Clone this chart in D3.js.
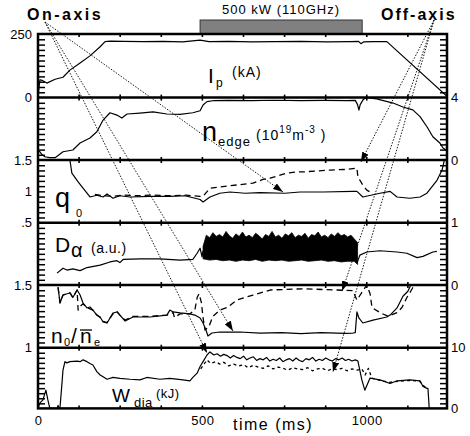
<!DOCTYPE html>
<html><head><meta charset="utf-8">
<script src="https://cdn.jsdelivr.net/npm/d3@7"></script>
<style>
body{margin:0;background:#fff}
svg{display:block}
text{font-family:"Liberation Sans",Arial,Helvetica,sans-serif;fill:#000}
</style>
</head><body>
<svg id="c" width="470" height="436"></svg>
<script>
// ---------------- DATA (time in ms) ----------------
const ipT=[0,3,6,12,27,52,76,97,128,158,189,204,219,260,320,380,440,493,520,580,650,720,800,880,950,975,982,990,1020,1061,1244];
const ipV=[0,40,70,68,57,72,80,108,136,164,200,220,222,221,220,221,219,226,220,221,219,220,221,219,220,221,212,219,220,220,5];

const neT=[3,12,21,35,52,76,106,128,158,179,198,219,240,255,271,310,350,392,432,471,493,502,514,532,580,650,720,800,870,940,965,972,976,980,990,1000,1030,1080,1110,1140,1162,1183,1201,1223,1232,1244];
const neV=[0.6,0.35,0.21,0.15,0.15,0.53,0.64,1.09,1.41,1.81,2.56,3.03,2.88,2.69,2.95,3.01,3.09,2.95,2.93,3.03,3.16,3.53,3.74,3.80,3.82,3.80,3.83,3.81,3.82,3.80,3.82,3.55,3.2,3.55,3.9,4.0,3.92,3.65,3.4,3.21,2.78,2.13,1.49,1.07,0.77,0.6];

const q0T=[97,103,122,134,149,158,173,179,198,210,228,249,280,341,401,447,493,502,523,553,584,630,675,751,797,867,958,970,988,1040,1071,1092,1131,1162,1183,1192,1214,1229,1236];
const q0V=[1.5,1.29,1.15,1.07,0.97,0.91,0.93,0.94,0.91,0.96,0.89,0.93,0.91,0.92,0.92,0.93,0.87,0.83,0.91,0.97,0.99,0.97,0.98,0.97,0.99,0.99,1.0,1.0,0.91,0.97,1.0,0.91,0.89,0.91,0.97,1.03,1.18,1.34,1.5];
const q0dT=[173,200,230,260,300,350,400,450,493,502,523,553,584,654,684,706,757,788,806,888,940,970,973,988,1000,1010];
const q0dV=[0.95,0.93,0.92,0.94,0.93,0.94,0.93,0.94,0.92,0.92,1.05,1.07,1.09,1.13,1.19,1.21,1.29,1.31,1.31,1.34,1.35,1.37,1.23,1.10,1.02,0.99];

const daPreT=[58,76,88,106,128,149,189,219,240,249,259,310,371,432,471,484,493,499,502];
const daPreV=[0.19,0.27,0.24,0.26,0.23,0.28,0.32,0.37,0.39,0.36,0.41,0.42,0.42,0.40,0.41,0.51,0.59,0.45,0.55];
const daTopT=[502,512,522,532,542,552,562,572,582,592,602,612,622,632,642,652,662,672,682,692,702,712,722,732,742,752,762,772,782,792,802,812,822,832,842,852,862,872,882,892,902,912,922,932,942,952,962,972];
const daTopV=[0.62,0.80,0.76,0.84,0.78,0.81,0.77,0.86,0.79,0.75,0.82,0.78,0.85,0.77,0.80,0.76,0.83,0.79,0.74,0.81,0.78,0.86,0.77,0.80,0.75,0.82,0.79,0.84,0.76,0.80,0.78,0.83,0.75,0.81,0.79,0.85,0.77,0.80,0.76,0.82,0.78,0.84,0.79,0.81,0.77,0.80,0.74,0.68];
const daBotT=[502,522,542,562,582,602,622,642,662,682,702,722,742,762,782,802,822,842,862,882,902,922,942,962,972];
const daBotV=[0.42,0.40,0.41,0.39,0.40,0.38,0.40,0.39,0.41,0.38,0.40,0.39,0.40,0.38,0.39,0.40,0.38,0.39,0.40,0.38,0.39,0.37,0.38,0.38,0.33];
const daPostT=[970,979,1000,1040,1092,1122,1153,1171,1201,1213];
const daPostV=[0.35,0.48,0.53,0.55,0.53,0.51,0.44,0.46,0.53,0.54];

const n0T=[61,67,76,97,106,119,128,137,149,158,167,179,189,198,210,228,240,249,265,289,341,392,401,411,432,462,477,493,502,511,517,529,553,614,675,740,800,860,934,958,965,970,976,988,1019,1061,1071,1092,1110,1125,1134];
const n0V=[1.484,1.356,1.42,1.436,1.40,1.46,1.42,1.356,1.317,1.325,1.30,1.26,1.245,1.205,1.197,1.277,1.285,1.26,1.213,1.245,1.245,1.26,1.30,1.285,1.277,1.27,1.26,1.237,1.197,1.14,1.093,1.117,1.125,1.125,1.117,1.12,1.113,1.12,1.115,1.117,1.12,1.285,1.237,1.197,1.22,1.245,1.26,1.317,1.41,1.45,1.5];
const n0dT=[61,67,76,97,106,119,122,128,137,149,167,179,189,198,210,228,240,249,265,289,341,392,411,415,432,462,477,484,490,497,502,508,520,532,553,575,605,654,706,806,909,958,970,990,1000,1010,1016,1040,1065,1092,1107,1122,1138,1144];
const n0dV=[1.48,1.36,1.42,1.44,1.40,1.46,1.30,1.33,1.35,1.32,1.30,1.26,1.24,1.21,1.20,1.27,1.29,1.26,1.22,1.25,1.25,1.26,1.28,1.24,1.27,1.27,1.30,1.40,1.43,1.36,1.24,1.14,1.17,1.25,1.30,1.32,1.38,1.42,1.46,1.47,1.46,1.455,1.38,1.46,1.5,1.43,1.32,1.28,1.25,1.28,1.32,1.40,1.47,1.5];

const wT=[0,6,15,24,30,36,58,61,64,67,73,76,82,88,97,119,128,137,149,158,167,179,189,198,210,228,249,280,310,331,371,401,441,462,471,484,493,502,514,523,535,545,555,565,575,585,595,605,615,625,635,645,655,665,675,685,695,705,715,725,735,745,755,765,775,785,795,805,815,825,835,845,855,865,875,885,895,905,915,925,935,945,955,965,973,985,994,1010,1040,1071,1092,1131,1162,1171,1183,1186,1190];
const wV=[0,0.9,1.4,3.0,1.4,0,0,0.5,0,0.2,4.2,6.3,7.7,7.5,7.7,7.8,7.7,8.0,7.7,7.4,7.15,6.05,5.5,5.2,4.8,5.1,4.95,4.8,4.7,5.1,4.8,4.95,4.7,4.55,5.1,5.8,6.9,7.7,8.8,9.3,8.8,9.0,8.6,8.9,8.7,8.3,8.7,8.4,8.2,8.6,8.0,8.3,8.5,7.9,8.2,8.0,8.4,7.8,8.1,7.9,8.3,7.7,8.0,8.2,7.8,8.3,7.9,7.7,8.2,8.0,8.4,7.8,8.1,7.9,8.3,8.0,7.8,8.2,8.0,8.3,7.9,8.1,7.8,8.0,7.8,4.7,3.0,5.0,4.7,4.1,4.55,4.7,4.55,3.6,3.3,3.3,0];
const wdT=[495,514,525,540,553,565,580,595,610,625,640,655,670,685,700,715,730,745,760,775,790,805,820,835,850,865,880,895,910,925,940,955,970,985,995,1005,1015,1040,1070,1100,1130,1160,1175,1186];
const wdV=[6.5,8.0,7.4,7.7,7.3,7.6,7.0,7.3,7.0,7.2,6.7,7.1,6.8,6.6,7.0,6.5,6.8,6.6,6.3,6.7,6.5,6.4,6.7,6.2,6.5,6.6,6.2,6.5,6.4,6.6,6.2,6.5,6.3,6.5,5.5,6.6,5.0,4.6,4.3,4.5,4.6,4.5,3.6,3.3];

// tick labels
const xTickLabels=[0,500,1000];
const xMinorTicks=[125,250,375,500,625,750,875,1000,1125];

// ---------------- LAYOUT ----------------
const svg=d3.select('#c');
svg.append('rect').attr('width',470).attr('height',436).attr('fill','#fff');
const X0=38,X1=447;
const x=d3.scaleLinear().domain([0,1244]).range([X0,X1]);
const edges=[34,97.6,160,222.7,285,347.7,408.4];
const panels={
  ip:{i:0,domain:[0,250],left:[[250,'250'],[0,'0']],right:[]},
  ne:{i:1,domain:[0,4],left:[],right:[[4,'4'],[0,'0']]},
  q0:{i:2,domain:[0.5,1.5],left:[[1.5,'1.5'],[1,'1'],[0.5,'.5']],right:[]},
  da:{i:3,domain:[0,1],left:[],right:[[1,'1'],[0,'0']]},
  n0:{i:4,domain:[1,1.5],left:[[1.5,'1.5'],[1,'1']],right:[]},
  w:{i:5,domain:[0,10],left:[],right:[[10,'10'],[0,'0']]}
};
const y={};
const defs=svg.append('defs');
for(const k in panels){
  const p=panels[k];
  y[k]=d3.scaleLinear().domain(p.domain).range([edges[p.i+1],edges[p.i]]);
  defs.append('clipPath').attr('id','cp-'+k).append('rect')
    .attr('x',X0).attr('y',edges[p.i]).attr('width',X1-X0).attr('height',edges[p.i+1]-edges[p.i]);
}
defs.append('marker').attr('id','ah').attr('viewBox','0 0 10 7').attr('refX',10).attr('refY',3.5)
  .attr('markerWidth',10).attr('markerHeight',7).attr('markerUnits','userSpaceOnUse').attr('orient','auto')
  .append('path').attr('d','M0,0L10,3.5L0,7Z').attr('fill','#000');

function drawLine(k,T,V,dash,w){
  const g=svg.append('g').attr('clip-path','url(#cp-'+k+')');
  g.append('path').datum(d3.zip(T,V))
    .attr('d',d3.line().x(d=>x(d[0])).y(d=>y[k](d[1])))
    .attr('fill','none').attr('stroke','#000').attr('stroke-width',w||1.2)
    .attr('stroke-linejoin','round').attr('stroke-dasharray',dash||null);
}

// ---------------- GREY HEATING BAR ----------------
svg.append('rect').attr('x',x(493)).attr('y',20).attr('width',x(986)-x(493)).attr('height',14)
  .attr('fill','#808080').attr('stroke','#333').attr('stroke-width',1);
svg.append('text').attr('x',281).attr('y',14).attr('text-anchor','middle')
  .attr('font-size',13).attr('letter-spacing',1).text('500 kW (110GHz)');

// ---------------- DATA LINES ----------------
drawLine('ip',ipT,ipV);
drawLine('ne',neT,neV);
drawLine('q0',q0T,q0V);
drawLine('q0',q0dT,q0dV,'6,4',1.3);
drawLine('da',daPreT,daPreV);
{
  const poly=d3.zip(daTopT,daTopV).concat(d3.zip(daBotT,daBotV).reverse());
  const lineGen=d3.line().x(d=>x(d[0])).y(d=>y.da(d[1]));
  svg.append('g').attr('clip-path','url(#cp-da)').append('path')
    .attr('d',lineGen(poly)+'Z')
    .attr('fill','#000').attr('stroke','#000').attr('stroke-width',0.8);
}
drawLine('da',daPostT,daPostV);
drawLine('n0',n0T,n0V);
drawLine('n0',n0dT,n0dV,'6,4',1.3);
drawLine('w',wT,wV);
drawLine('w',wdT,wdV,'3,3',1.3);

// ---------------- FRAME / TICKS ----------------
const fr=svg.append('g');
fr.append('rect').attr('x',X0).attr('y',edges[0]).attr('width',X1-X0).attr('height',edges[6]-edges[0])
  .attr('fill','none').attr('stroke','#000').attr('stroke-width',2.5);
edges.slice(1,6).forEach(e=>fr.append('line').attr('x1',X0).attr('x2',X1).attr('y1',e).attr('y2',e)
  .attr('stroke','#000').attr('stroke-width',2.5));
edges.forEach((e,i)=>{
  const up=(i===0)?0:3, dn=(i===6)?0:3;
  xMinorTicks.forEach(t=>fr.append('line').attr('x1',x(t)).attr('x2',x(t)).attr('y1',e-up).attr('y2',e+dn)
    .attr('stroke','#000').attr('stroke-width',1.6));
});
for(const k in panels){
  const d=panels[k].domain, n=12;
  const tv=d3.range(1,n).map(i=>d[0]+i*(d[1]-d[0])/n);
  const gl=fr.append('g').attr('transform',`translate(${X0},0)`)
    .call(d3.axisRight(y[k]).tickValues(tv).tickSize(7).tickFormat(''));
  gl.select('.domain').remove();
  gl.selectAll('line').attr('stroke-width',1.5);
  const gr=fr.append('g').attr('transform',`translate(${X1},0)`)
    .call(d3.axisLeft(y[k]).tickValues(tv).tickSize(7).tickFormat(''));
  gr.select('.domain').remove();
  gr.selectAll('line').attr('stroke-width',1.5);
  panels[k].left.forEach(([v,s])=>svg.append('text').attr('x',32).attr('y',y[k](v)).attr('dy','0.36em')
    .attr('text-anchor','end').attr('font-size',13).text(s));
  panels[k].right.forEach(([v,s])=>svg.append('text').attr('x',451).attr('y',y[k](v)).attr('dy','0.36em')
    .attr('font-size',13).text(s));
}
const xa=svg.append('g').attr('transform',`translate(0,${edges[6]})`)
  .call(d3.axisBottom(x).tickValues(xTickLabels).tickSize(0).tickPadding(7).tickFormat(d3.format('d')));
xa.select('.domain').remove();
xa.selectAll('text').attr('font-size',13).attr('font-family','"Liberation Sans",Arial,sans-serif').attr('letter-spacing',0.5);
svg.append('text').attr('x',233).attr('y',430).attr('font-size',16).attr('letter-spacing',1.5).text('time (ms)');

// ---------------- ANNOTATION ARROWS ----------------
const onSrc=[45,22], offSrc=[434,20];
const onTargets=[['q0',745,0.99],['n0',593,1.133],['w',514,9.13]];
const offTargets=[['q0',982,1.468],['n0',925,1.452],['w',897,6.0]];
function arrows(src,targets){
  targets.forEach(([k,t,v])=>svg.append('line').attr('x1',src[0]).attr('y1',src[1])
    .attr('x2',x(t)).attr('y2',y[k](v)).attr('stroke','#000').attr('stroke-width',0.9)
    .attr('stroke-dasharray','1.5,1.5').attr('marker-end','url(#ah)'));
}
arrows(onSrc,onTargets);
arrows(offSrc,offTargets);
svg.append('text').attr('x',27).attr('y',20).attr('font-size',16).attr('font-weight','bold')
  .attr('letter-spacing',2.5).text('On-axis');
svg.append('text').attr('x',381).attr('y',20).attr('font-size',16).attr('font-weight','bold')
  .attr('letter-spacing',2).text('Off-axis');

// ---------------- PANEL LABELS ----------------
function txt(xp,yp,size,s,extra){const t=svg.append('text').attr('x',xp).attr('y',yp).attr('font-size',size).text(s);
  if(extra)for(const a in extra)t.attr(a,extra[a]);return t;}
txt(208,83,21,'I');
txt(216,87,12,'p');
txt(232,77,14,'(kA)',{'letter-spacing':1});
txt(202,141,27,'n');
txt(218,146,13,'edge',{'letter-spacing':1});
const ne=svg.append('text').attr('x',256).attr('y',140).attr('font-size',14).attr('letter-spacing',1);
ne.append('tspan').text('(10');
ne.append('tspan').attr('dy',-7).attr('font-size',10).text('19');
ne.append('tspan').attr('dy',7).text('m');
ne.append('tspan').attr('dy',-7).attr('font-size',10).text('-3');
ne.append('tspan').attr('dy',7).text(' )');
txt(55,207,27,'q');
txt(76,217,11,'0');
txt(55,252,21,'D');
txt(71,257,20,'α');
txt(91,253,14,'(a.u.)',{'letter-spacing':0.5});
txt(51,343,21,'n');
txt(64,346,11,'0');
txt(71,343,21,'/');
txt(80,343,21,'n');
svg.append('line').attr('x1',80).attr('x2',92).attr('y1',330).attr('y2',330).attr('stroke','#000').attr('stroke-width',1.3);
txt(94,346,11,'e');
txt(112,402,19,'W');
txt(134,407,13,'dia',{'letter-spacing':0.5});
txt(156,398,13,'(kJ)',{'letter-spacing':0.5});
</script>
</body></html>
